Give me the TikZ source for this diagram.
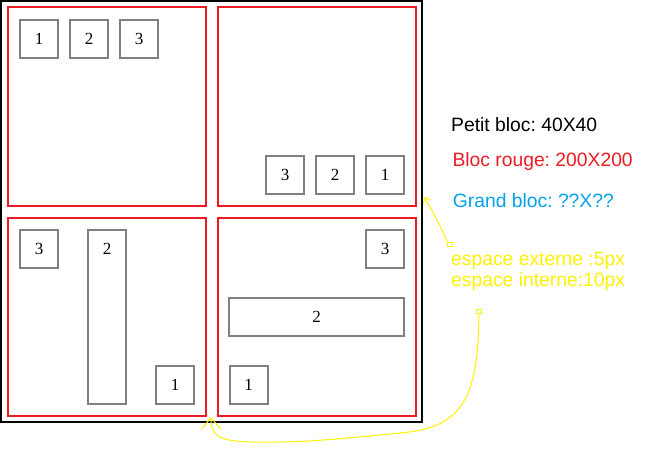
\documentclass[tikz,border=0pt]{standalone}
\usepackage{fontspec}
\setmainfont{Liberation Serif}
\newfontfamily\arialf{Liberation Sans}
\usetikzlibrary{arrows.meta}
\definecolor{boxgray}{RGB}{128,128,128}
\definecolor{pred}{RGB}{237,28,36}
\definecolor{pblue}{RGB}{0,162,232}
\definecolor{pyellow}{RGB}{255,242,0}
\frenchspacing
\tikzset{
  gbox/.style={draw=boxgray, line width=1.8pt, minimum width=38pt, minimum height=38pt, inner sep=0pt, font=\fontsize{17}{17}\selectfont, text depth=0pt, text height=11pt},
  redbox/.style={draw=pred, line width=2pt, minimum width=198.5pt, minimum height=198.5pt, inner sep=0pt},
  legend/.style={anchor=base west, inner sep=0pt, font=\arialf\fontsize{19.3}{20}\selectfont},
  yarrow/.style={draw=pyellow, line width=1pt},
  handle/.style={draw=pyellow, line width=0.8pt, minimum width=5pt, minimum height=4pt, inner sep=0pt}
}
\begin{document}
\begin{tikzpicture}[x=1pt,y=-1pt]
\useasboundingbox (0,0) rectangle (651,449);
\fill[white] (0,0) rectangle (651,449);
% big block
\node[draw=black, line width=2pt, minimum width=421pt, minimum height=421pt, inner sep=0pt] (big) at (211.5,211.5) {};
% red blocks
\node[redbox] (r1) at (106.75,106.75) {};
\node[redbox] (r2) at (317,106.75) {};
\node[redbox] (r3) at (106.75,317) {};
\node[redbox] (r4) at (317,317) {};
% top-left small blocks
\node[gbox] (a1) at (39,39) {1};
\node[gbox] (a2) at (89,39) {2};
\node[gbox] (a3) at (139,39) {3};
% top-right
\node[gbox] (b3) at (285,174.7) {3};
\node[gbox] (b2) at (335,174.7) {2};
\node[gbox] (b1) at (385,174.7) {1};
% bottom-left
\node[gbox] (c3) at (39,249) {3};
\node[draw=boxgray, line width=1.8pt, minimum width=38pt, minimum height=174pt, inner sep=0pt] (c2) at (107,317) {};
\node[font=\fontsize{17}{17}\selectfont, inner sep=0pt, anchor=base] (c2t) at (107,255) {2};
\node[gbox] (c1) at (175,385) {1};
% bottom-right
\node[gbox] (d3) at (385,249) {3};
\node[gbox, minimum width=174.7pt] (d2) at (316.7,316.7) {2};
\node[gbox] (d1) at (248.7,385) {1};
% legend
\node[legend, text=black] (t1) at (451,131.7) {Petit bloc: 40X40};
\node[legend, text=pred] (t2) at (452.3,166.7) {Bloc rouge: 200X200};
\node[legend, text=pblue] (t3) at (452.7,207.3) {Grand bloc: ??X??};
\node[legend, text=pyellow] (t4) at (451,265.7) {espace externe :5px};
\node[legend, text=pyellow] (t5) at (451,286.7) {espace interne:10px};
% yellow pointers
\node[handle] (h1) at (450,244) {};
\coordinate (tip1) at (424,197);
\draw[yarrow, -{Straight Barb[length=5pt,width=8pt]}] (h1.north west) .. controls (440,225) and (432,210) .. (tip1);
\node[handle] (h2) at (479,311) {};
\coordinate (tip2) at (211,417);
\draw[yarrow, -{Straight Barb[length=11pt,width=19pt]}] (h2.south) .. controls (478,395) and (465,428) .. (400,433) .. controls (340,439) and (300,443) .. (250,442) .. controls (216,441) and (211,434) .. (tip2);
\end{tikzpicture}
\end{document}
